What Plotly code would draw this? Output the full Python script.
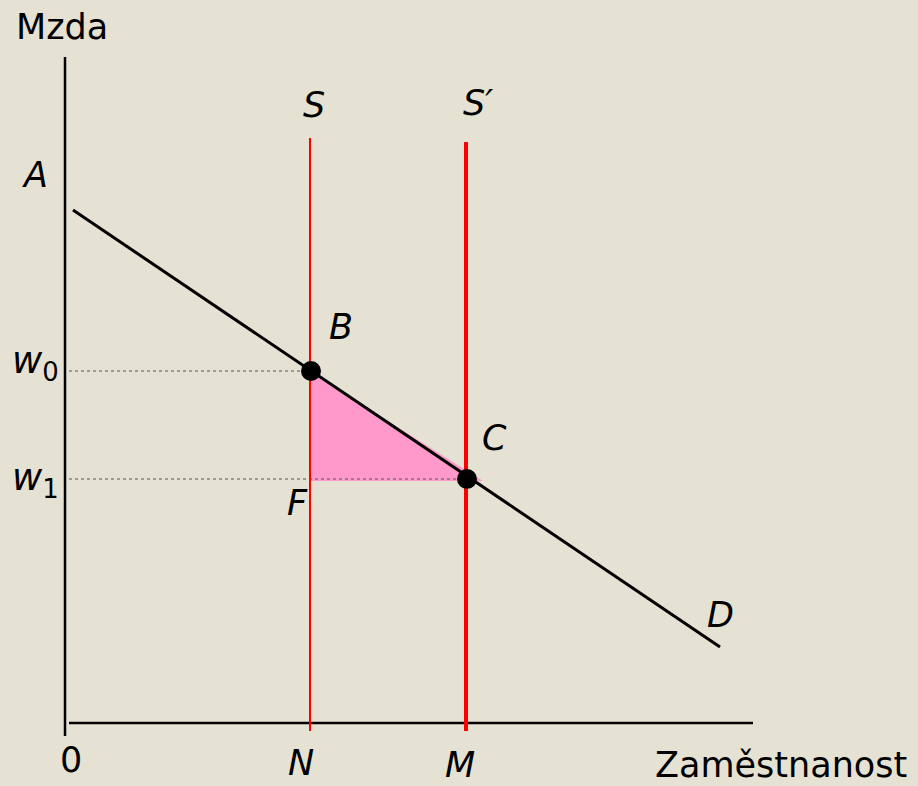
import plotly.graph_objects as go

# model values (chart units, origin at the axes corner)
demand_x = [0.8, 65.5]
demand_y = [51.3, 7.6]
supply_x = {"S": 24.5, "S2": 40.1}
supply_top = {"S": 58.5, "S2": 58.1}
points_x = [24.6, 40.2]
points_y = [35.2, 24.4]
wages = [35.2, 24.4]
triangle_x = [24.5, 24.5, 41.8, 24.5]
triangle_y = [35.1, 24.2, 24.2, 35.1]

BG = "#e6e2d3"
FONT = "DejaVu Sans"

fig = go.Figure()

# welfare triangle
fig.add_trace(go.Scatter(x=triangle_x, y=triangle_y, fill="toself",
                         fillcolor="#ff99cc", line=dict(width=0), mode="lines"))

# axes
fig.add_trace(go.Scatter(x=[0, 0], y=[-1.3, 66.6], mode="lines",
                         line=dict(color="black", width=2.5)))
fig.add_trace(go.Scatter(x=[0.4, 68.8], y=[0, 0], mode="lines",
                         line=dict(color="black", width=2.5)))

# dotted wage guides
for w, px in zip(wages, points_x):
    fig.add_trace(go.Scatter(x=[0.4, px], y=[w, w], mode="lines",
                             line=dict(color="#555555", width=1, dash="dot")))

# demand
fig.add_trace(go.Scatter(x=demand_x, y=demand_y, mode="lines",
                         line=dict(color="black", width=3)))

# supply lines
fig.add_trace(go.Scatter(x=[supply_x["S"]] * 2, y=[-0.8, supply_top["S"]], mode="lines",
                         line=dict(color="#ff0000", width=2)))
fig.add_trace(go.Scatter(x=[supply_x["S2"]] * 2, y=[-0.8, supply_top["S2"]], mode="lines",
                         line=dict(color="#ff0000", width=4)))

# equilibrium points
fig.add_trace(go.Scatter(x=points_x, y=points_y, mode="markers",
                         marker=dict(color="black", size=20)))

labels = [
    ("Mzda", -0.3, 69.6, 35),
    ("<i>A</i>", -3.0, 54.8, 35),
    ("<i>S</i>", 24.9, 61.8, 35),
    ("<i>S\u2032</i>", 41.3, 62.0, 35),
    ("<i>B</i>", 27.6, 39.6, 35),
    ("<i>C</i>", 42.9, 28.5, 35),
    ("<i>D</i>", 65.5, 10.8, 35),
    ("<i>F</i>", 23.2, 22.0, 35),
    ("<i>N</i>", 23.6, -4.0, 35),
    ("<i>M</i>", 39.5, -4.2, 35),
    ("0", 0.6, -3.7, 35),
    ("<i>w</i><sub>0</sub>", -3.0, 36.0, 37),
    ("<i>w</i><sub>1</sub>", -3.0, 24.3, 37),
    ("Zaměstnanost", 71.6, -4.2, 35),
]
for text, x, y, size in labels:
    fig.add_annotation(x=x, y=y, text=text, showarrow=False,
                       font=dict(family=FONT, size=size, color="black"))

fig.update_layout(
    width=918, height=786,
    margin=dict(l=0, r=0, t=0, b=0),
    paper_bgcolor=BG, plot_bgcolor=BG,
    showlegend=False,
    xaxis=dict(range=[-6.5, 85.3], visible=False, fixedrange=True),
    yaxis=dict(range=[-6.3, 72.3], visible=False, fixedrange=True),
)

fig.write_html("out.html", config={"displayModeBar": False},
               post_script="document.body.style.margin='0';")
